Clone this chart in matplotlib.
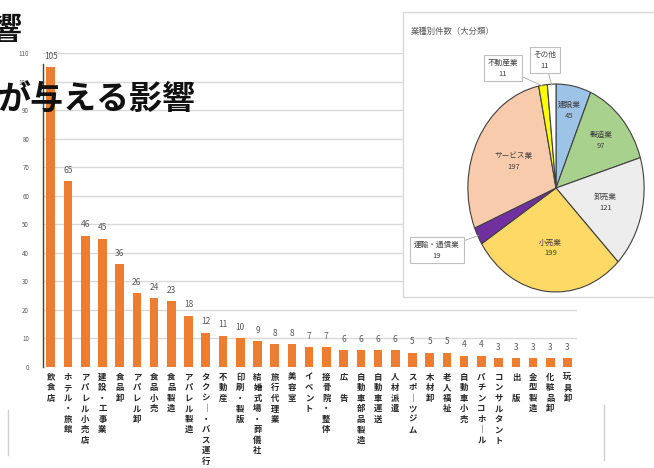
import matplotlib
matplotlib.use("Agg")
import matplotlib.pyplot as plt
from matplotlib.patches import Rectangle
from matplotlib.lines import Line2D
import numpy as np

plt.rcParams['font.family'] = ['Noto Sans CJK JP', 'DejaVu Sans']

# ---- data ----
categories = ["飲食店", "ホテル・旅館", "アパレル小売店", "建設・工事業", "食品卸", "アパレル卸",
              "食品小売", "食品製造", "アパレル製造", "タクシー・バス運行", "不動産", "印刷・製版",
              "結婚式場・葬儀社", "旅行代理業", "美容室", "イベント", "接骨院・整体", "広　告",
              "自動車部品製造", "自動車運送", "人材派遣", "スポーツジム", "木材卸", "老人福祉",
              "自動車小売", "パチンコホール", "コンサルタント", "出　版", "金型製造", "化粧品卸", "玩具卸"]
values = [105, 65, 46, 45, 36, 26, 24, 23, 18, 12, 11, 10, 9, 8, 8, 7, 7, 6, 6, 6, 6, 5, 5, 5,
          4, 4, 3, 3, 3, 3, 3]
yticks = list(range(0, 111, 10))

pie_labels = ["建設業", "製造業", "卸売業", "小売業", "運輸・通信業", "サービス業", "不動産業", "その他"]
pie_values = [45, 97, 121, 199, 19, 197, 11, 11]
pie_colors = ["#9DC3E6", "#A9D18E", "#EDEDED", "#FFD966", "#7030A0", "#F8CBAD", "#FFFF00", "#FFFFFF"]

W, H = 654, 468
fig = plt.figure(figsize=(W / 100, H / 100), dpi=100)
fig.patch.set_facecolor("white")

def fx(px):
    return px / W

def fy(py):
    return 1 - py / H

# ---- bar chart ----
n = len(values)
ax = fig.add_axes([fx(43), fy(367), fx(577) - fx(43), (367 - 53) / H])
x = np.arange(n)
ax.bar(x, values, width=0.5, color="#ED7D31", zorder=3)
for xi, v in zip(x, values):
    ax.text(xi, v + 2.2, str(v), ha="center", va="bottom", fontsize=6, color="#595959")
ax.set_xlim(-0.45, n - 0.45)
ax.set_ylim(0, 110)
ax.set_yticks(yticks)
ax.set_yticklabels([str(t) for t in yticks], fontsize=4.5, color="#595959")
ax.yaxis.grid(True, color="#D9D9D9", lw=1.0, zorder=0)
ax.set_axisbelow(True)
for s in ["top", "right", "bottom"]:
    ax.spines[s].set_visible(False)
ax.spines["left"].set_color("#404040")
ax.spines["left"].set_linewidth(1.0)
ax.spines["left"].set_bounds(0, 106)
ax.tick_params(axis="y", length=0, pad=10)
ax.tick_params(axis="x", length=0, pad=4)

def vert(s):
    return "\n".join("｜" if c == "ー" else c for c in s)

ax.set_xticks(x)
ax.set_xticklabels([vert(c) for c in categories], fontsize=6, color="#262626",
                   fontweight="bold", linespacing=1.22, va="top")

# ---- titles ----
fig.text(fx(22), fy(30), "影響", ha="right", va="center", fontsize=22, fontweight="bold",
         color="#111111", zorder=10)
fig.text(fx(-3), fy(99), "が与える影響", ha="left", va="center", fontsize=23.8, fontweight="bold",
         color="#111111", zorder=10)

# ---- pie inset frame ----
fig.add_artist(Rectangle((fx(403), fy(297)), fx(700) - fx(403), fy(12) - fy(297),
                         transform=fig.transFigure, facecolor="white", edgecolor="#D9D9D9",
                         lw=1.0, zorder=5))
fig.text(fx(411), fy(31), "業種別件数（大分類）", fontsize=6, color="#595959", va="center",
         ha="left", zorder=6)

cx, cy, rx, ry = 556, 188, 89, 105
pax = fig.add_axes([fx(cx - rx), fy(cy + ry), 2 * rx / W, 2 * ry / H], zorder=6)
pax.patch.set_alpha(0)
wedges, _ = pax.pie(pie_values, colors=pie_colors, startangle=90, counterclock=False,
                    wedgeprops=dict(edgecolor="#404040", linewidth=0.8))
pax.set_aspect("auto")
pax.set_xlim(-1.01, 1.01)
pax.set_ylim(-1.01, 1.01)
pax.axis("off")

inside_r = {"建設業": 0.76, "製造業": 0.69, "卸売業": 0.58, "小売業": 0.58, "サービス業": 0.55}
for w, lab, v in zip(wedges, pie_labels, pie_values):
    mid = np.deg2rad((w.theta1 + w.theta2) / 2)
    if lab in inside_r:
        r = inside_r[lab]
        pax.text(r * np.cos(mid), r * np.sin(mid), f"{lab}\n{v}", ha="center", va="center",
                 fontsize=5.5, color="#404040", linespacing=1.5)

callouts = {"不動産業": (503, 68), "その他": (545, 60), "運輸・通信業": (437, 250)}
for w, lab, v in zip(wedges, pie_labels, pie_values):
    if lab in callouts:
        mid = np.deg2rad((w.theta1 + w.theta2) / 2)
        tx, ty = callouts[lab]
        pax.annotate(f"{lab}\n{v}", xy=(0.99 * np.cos(mid), 0.99 * np.sin(mid)),
                     xytext=(fx(tx), fy(ty)), textcoords="figure fraction",
                     ha="center", va="center", fontsize=5.5, color="#404040", linespacing=1.5,
                     bbox=dict(boxstyle="square,pad=0.5", facecolor="white",
                               edgecolor="#BFBFBF", lw=0.8),
                     arrowprops=dict(arrowstyle="-", color="#A6A6A6", lw=0.6,
                                     shrinkA=0, shrinkB=0))

# faint slide frame fragments
fig.add_artist(Line2D([fx(8), fx(8)], [fy(410), fy(455)], transform=fig.transFigure,
                      color="#D0D0D0", lw=1))
fig.add_artist(Line2D([fx(604), fx(604)], [fy(405), fy(460)], transform=fig.transFigure,
                      color="#D0D0D0", lw=1))

fig.savefig("out.png", dpi=100)
